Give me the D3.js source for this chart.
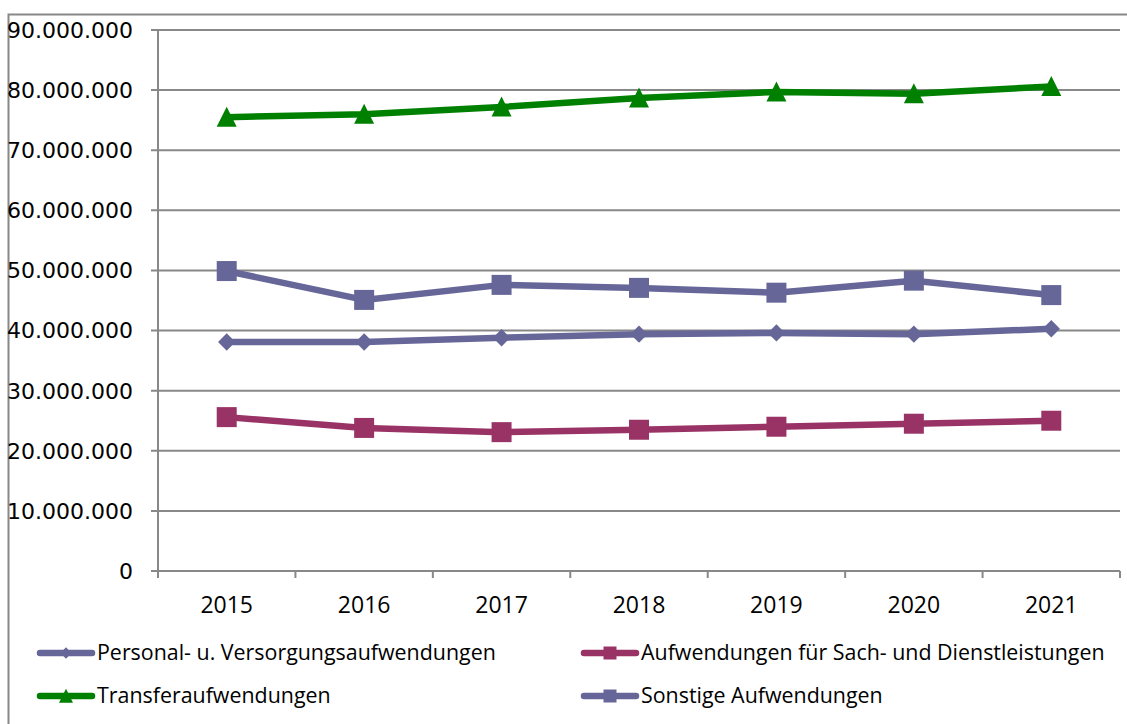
<!DOCTYPE html>
<html lang="de">
<head>
    <meta charset="UTF-8">
    <title>Aufwendungen 2015-2021</title>
    <script src="https://d3js.org/d3.v7.min.js"></script>
    <style>
        body { margin: 0; background: #fff; }
        .ylab { font-family: "DejaVu Sans", sans-serif; font-size: 22px; fill: #000; }
        .xlab { font-family: "Open Sans", sans-serif; font-size: 23px; fill: #000; }
        .leg { font-family: "Open Sans", sans-serif; font-size: 21.4px; fill: #000; }
    </style>
</head>
<body>
<div id="chart"></div>
<script>
    const years = ["2015", "2016", "2017", "2018", "2019", "2020", "2021"];
    const yTicks = [0, 10e6, 20e6, 30e6, 40e6, 50e6, 60e6, 70e6, 80e6, 90e6];

    const personal = [38.1e6, 38.1e6, 38.8e6, 39.4e6, 39.6e6, 39.4e6, 40.3e6];
    const sach = [25.6e6, 23.8e6, 23.1e6, 23.5e6, 24.0e6, 24.5e6, 25.0e6];
    const transfer = [75.5e6, 76.0e6, 77.2e6, 78.7e6, 79.7e6, 79.4e6, 80.6e6];
    const sonstige = [49.9e6, 45.1e6, 47.6e6, 47.1e6, 46.3e6, 48.3e6, 45.9e6];

    const series = [
        { name: "Personal- u. Versorgungsaufwendungen", values: personal, color: "#666699", marker: "diamond" },
        { name: "Aufwendungen für Sach- und Dienstleistungen", values: sach, color: "#993366", marker: "square" },
        { name: "Transferaufwendungen", values: transfer, color: "#008000", marker: "triangle" },
        { name: "Sonstige Aufwendungen", values: sonstige, color: "#666699", marker: "square" }
    ];

    const W = 1127, H = 724;
    const plot = { left: 158, right: 1120, top: 30, bottom: 571 };
    const grid = "#888888";

    const svg = d3.select("#chart").append("svg")
        .attr("width", W)
        .attr("height", H);

    // outer chart frame (cut off at right and bottom)
    svg.append("rect")
        .attr("x", 8.5).attr("y", 14.5)
        .attr("width", W + 20).attr("height", H + 20)
        .attr("fill", "none")
        .attr("stroke", grid)
        .attr("stroke-width", 2);

    const x = d3.scaleBand()
        .domain(years)
        .range([plot.left, plot.right]);

    const y = d3.scaleLinear()
        .domain([0, 90e6])
        .range([plot.bottom, plot.top]);

    const cx = d => x(d) + x.bandwidth() / 2;

    // gridlines + y labels
    const fmt = v => v === 0 ? "0" : d3.format(",")(v).replace(/,/g, ".");
    svg.append("g")
        .selectAll("line")
        .data(yTicks)
        .enter().append("line")
        .attr("x1", plot.left - 7)
        .attr("x2", plot.right)
        .attr("y1", d => y(d))
        .attr("y2", d => y(d))
        .attr("stroke", grid)
        .attr("stroke-width", 2);

    svg.append("g")
        .selectAll("text")
        .data(yTicks)
        .enter().append("text")
        .attr("class", "ylab")
        .attr("x", 133)
        .attr("y", d => y(d))
        .attr("dy", "0.36em")
        .attr("text-anchor", "end")
        .text(fmt);

    // y axis line
    svg.append("line")
        .attr("x1", plot.left).attr("x2", plot.left)
        .attr("y1", plot.top).attr("y2", plot.bottom)
        .attr("stroke", grid).attr("stroke-width", 2);

    // x tick marks at category boundaries
    const bounds = years.map(d => x(d)).concat([x(years[years.length - 1]) + x.bandwidth()]);
    svg.append("g")
        .selectAll("line")
        .data(bounds)
        .enter().append("line")
        .attr("x1", d => d).attr("x2", d => d)
        .attr("y1", plot.bottom).attr("y2", plot.bottom + 7)
        .attr("stroke", grid).attr("stroke-width", 2);

    svg.append("g")
        .selectAll("text")
        .data(years)
        .enter().append("text")
        .attr("class", "xlab")
        .attr("x", d => cx(d))
        .attr("y", 613)
        .attr("text-anchor", "middle")
        .text(d => d);

    const symbols = {
        diamond: d3.symbol().type(d3.symbolSquare).size(150),
        square: d3.symbol().type(d3.symbolSquare).size(400),
        triangle: () => "M0,-10.5L10,9.5L-10,9.5Z"
    };

    function drawMarker(g, type, px, py, color) {
        const p = g.append("path")
            .attr("d", symbols[type]())
            .attr("fill", color);
        if (type === "diamond") {
            p.attr("transform", `translate(${px},${py}) rotate(45)`);
        } else {
            p.attr("transform", `translate(${px},${py})`);
        }
    }

    const line = d3.line()
        .x((d, i) => cx(years[i]))
        .y(d => y(d));

    series.forEach(s => {
        const g = svg.append("g");
        g.append("path")
            .datum(s.values)
            .attr("d", line)
            .attr("fill", "none")
            .attr("stroke", s.color)
            .attr("stroke-width", 6.5)
            .attr("stroke-linejoin", "round");
        s.values.forEach((v, i) => drawMarker(g, s.marker, cx(years[i]), y(v), s.color));
    });

    // legend
    const legPos = [
        { x: 35, y: 653 },
        { x: 579, y: 653 },
        { x: 35, y: 696 },
        { x: 579, y: 696 }
    ];
    const legScale = { diamond: 0.65, square: 0.65, triangle: 0.7 };
    series.forEach((s, i) => {
        const p = legPos[i];
        const g = svg.append("g");
        g.append("line")
            .attr("x1", p.x + 5).attr("x2", p.x + 57)
            .attr("y1", p.y).attr("y2", p.y)
            .attr("stroke", s.color)
            .attr("stroke-width", 6.5)
            .attr("stroke-linecap", "round");
        const mtype = s.marker;
        const sc = legScale[mtype];
        g.append("path")
            .attr("d", symbols[mtype]())
            .attr("fill", s.color)
            .attr("transform", mtype === "diamond"
                ? `translate(${p.x + 31},${p.y}) rotate(45) scale(${sc})`
                : `translate(${p.x + 31},${p.y}) scale(${sc})`);
        g.append("text")
            .attr("class", "leg")
            .attr("x", p.x + 62)
            .attr("y", p.y)
            .attr("dy", "0.35em")
            .text(s.name);
    });
</script>
</body>
</html>
